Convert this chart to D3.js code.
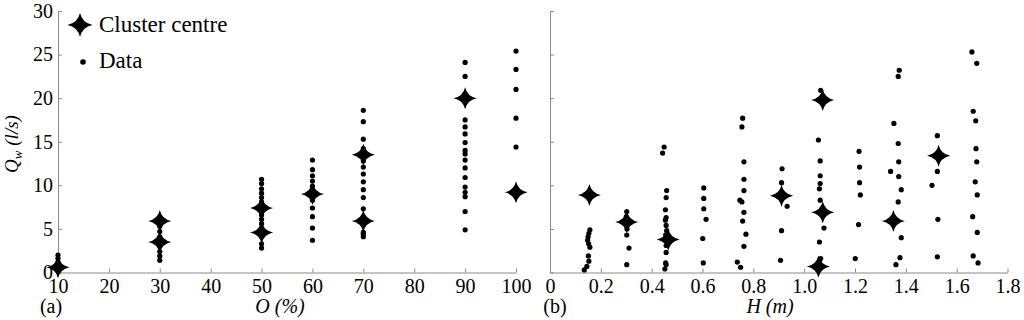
<!DOCTYPE html>
<html>
<head>
<meta charset="utf-8">
<script src="https://cdn.jsdelivr.net/npm/d3@7/dist/d3.min.js"></script>
<style>
  body { margin: 0; background: #fff; }
  svg { display: block; }
  .axis path, .axis line { stroke: #8a8a8a; stroke-width: 1; }
</style>
</head>
<body>
<div class="chart"></div>
<script>
// panel (a): discharge against opening
var oLevels = [10, 30, 50, 60, 70, 90, 100];
var qwByO = [
    [2.0, 1.6, 1.2, 0.8, 0.5, 0.3],
    [6.3, 5.9, 5.3, 4.7, 4.1, 3.5, 3.0, 2.4, 1.9, 1.4],
    [10.7, 10.2, 9.6, 9.1, 8.6, 8.1, 7.6, 7.1, 6.6, 6.1, 5.6, 5.1, 4.6, 4.1, 3.3, 2.8],
    [12.9, 11.8, 11.1, 10.5, 9.9, 9.5, 9.0, 8.3, 7.4, 6.4, 5.1, 3.7],
    [18.6, 17.3, 15.3, 14.2, 13.6, 12.8, 12.1, 11.3, 10.4, 9.5, 8.6, 7.3, 6.0, 4.6, 4.4, 4.1],
    [24.1, 22.5, 17.5, 16.7, 15.9, 14.9, 14.0, 13.6, 12.9, 12.0, 10.9, 9.8, 9.2, 8.7, 7.0, 4.9],
    [25.4, 23.3, 21.0, 17.7, 14.4]
];
var centresA = [[10, 0.6], [30, 5.9], [30, 3.5], [50, 7.4], [50, 4.6], [60, 9.0],
                [70, 13.5], [70, 5.9], [90, 20.0], [100, 9.2]];

// panel (b): discharge against head  [H, Qw]
var dataB = [
    [0.157, 4.9], [0.153, 4.5], [0.150, 4.1], [0.148, 3.7], [0.152, 3.3], [0.157, 2.9], [0.151, 1.9], [0.153, 1.3], [0.145, 0.7], [0.135, 0.3],
    [0.302, 7.0], [0.300, 6.4], [0.302, 5.8], [0.303, 5.0], [0.302, 4.3], [0.311, 2.8], [0.302, 0.9],
    [0.449, 14.4], [0.443, 13.7], [0.459, 9.4], [0.457, 8.6], [0.454, 7.2], [0.457, 6.3], [0.454, 6.0], [0.457, 5.4],
    [0.459, 4.8], [0.455, 4.3], [0.460, 3.6], [0.457, 3.1], [0.457, 2.3], [0.455, 1.1], [0.457, 0.9], [0.452, 0.4],
    [0.605, 9.7], [0.605, 8.5], [0.605, 7.3], [0.614, 6.1], [0.601, 3.9], [0.603, 1.1],
    [0.758, 17.7], [0.755, 16.7], [0.763, 12.7], [0.763, 10.7], [0.763, 9.4], [0.747, 8.3], [0.755, 8.1],
    [0.763, 6.9], [0.758, 5.9], [0.771, 4.4], [0.763, 3.0], [0.737, 1.2], [0.750, 0.6],
    [0.913, 11.9], [0.911, 10.3], [0.933, 7.6], [0.911, 4.8], [0.907, 1.4],
    [1.065, 20.9], [1.056, 15.2], [1.063, 12.8], [1.063, 11.1], [1.063, 10.2], [1.060, 9.6], [1.063, 8.3],
    [1.078, 5.1], [1.060, 3.5], [1.065, 1.6], [1.060, 1.3],
    [1.216, 13.9], [1.218, 12.1], [1.218, 10.3], [1.221, 8.9], [1.214, 5.5], [1.201, 1.6],
    [1.374, 23.2], [1.370, 22.5], [1.353, 17.1], [1.370, 14.8], [1.372, 12.7], [1.340, 11.6], [1.372, 11.0],
    [1.382, 9.5], [1.370, 8.1], [1.382, 4.0], [1.377, 1.7], [1.361, 0.9],
    [1.524, 15.7], [1.524, 11.6], [1.503, 10.0], [1.526, 6.1], [1.524, 1.8],
    [1.660, 25.3], [1.679, 24.0], [1.665, 18.5], [1.675, 17.4], [1.676, 14.2], [1.679, 12.7], [1.673, 10.4],
    [1.681, 8.9], [1.663, 6.4], [1.681, 4.6], [1.665, 1.9], [1.684, 1.1]
];
var centresB = [[0.155, 8.9], [0.302, 5.8], [0.465, 3.8], [0.911, 8.8], [1.073, 19.8],
                [1.073, 6.9], [1.056, 0.7], [1.351, 5.9], [1.529, 13.4]];

var qTicks = [0, 5, 10, 15, 20, 25, 30];
var oTicks = [10, 20, 30, 40, 50, 60, 70, 80, 90, 100];
var hTicks = [0, 0.2, 0.4, 0.6, 0.8, 1.0, 1.2, 1.4, 1.6, 1.8];

var serif = '"Liberation Serif", "Times New Roman", serif';
var width = 1024, height = 320;
var svg = d3.select('.chart').append('svg')
    .attr('width', width)
    .attr('height', height)
    .attr('font-family', serif);

var y = d3.scaleLinear().domain([0, 30]).range([272.5, 11]);
var xA = d3.scaleLinear().domain([10, 100]).range([58, 516]);
var xB = d3.scaleLinear().domain([0, 1.8]).range([550, 1007.5]);

// four pointed star, drawn round 0,0
var starPath = function(rx, ry, c) {
    return 'M0,' + (-ry) + 'Q' + c + ',' + (-c) + ' ' + rx + ',0' +
        'Q' + c + ',' + c + ' 0,' + ry +
        'Q' + (-c) + ',' + c + ' ' + (-rx) + ',0' +
        'Q' + (-c) + ',' + (-c) + ' 0,' + (-ry) + 'Z';
};
var star = starPath(11.5, 11, 2.0);

var drawAxes = function(x, ticks, fmt, showY) {
    var xa = svg.append('g').attr('class', 'axis')
        .attr('transform', 'translate(0,' + y(0) + ')')
        .call(d3.axisBottom(x).tickValues(ticks).tickFormat(fmt)
            .tickSizeInner(-4).tickSizeOuter(0).tickPadding(6));
    var ya = d3.axisLeft(y).tickValues(qTicks)
        .tickSizeInner(-4).tickSizeOuter(0).tickPadding(5);
    if (!showY) ya.tickFormat('');
    var yg = svg.append('g').attr('class', 'axis')
        .attr('transform', 'translate(' + x.range()[0] + ',0)')
        .call(ya);
    [xa, yg].forEach(function(g) {
        g.attr('font-family', serif).attr('font-size', 20);
        g.selectAll('text').attr('fill', '#000');
    });
};

drawAxes(xA, oTicks, d3.format('d'), true);
drawAxes(xB, hTicks, function(d) { return d === 0 ? '0' : d3.format('.1f')(d); }, false);

// dots, panel a
var flatA = [];
oLevels.forEach(function(o, i) {
    qwByO[i].forEach(function(q) { flatA.push([o, q]); });
});

svg.append('g').selectAll('circle')
    .data(flatA)
    .enter().append('circle')
    .attr('cx', function(d) { return xA(d[0]); })
    .attr('cy', function(d) { return y(d[1]); })
    .attr('r', 2.6)
    .attr('fill', '#000');

svg.append('g').selectAll('circle')
    .data(dataB)
    .enter().append('circle')
    .attr('cx', function(d) { return xB(d[0]); })
    .attr('cy', function(d) { return y(d[1]); })
    .attr('r', 2.6)
    .attr('fill', '#000');

svg.append('g').selectAll('path')
    .data(centresA)
    .enter().append('path')
    .attr('d', star)
    .attr('transform', function(d) { return 'translate(' + xA(d[0]) + ',' + y(d[1]) + ')'; })
    .attr('fill', '#000');

svg.append('g').selectAll('path')
    .data(centresB)
    .enter().append('path')
    .attr('d', star)
    .attr('transform', function(d) { return 'translate(' + xB(d[0]) + ',' + y(d[1]) + ')'; })
    .attr('fill', '#000');

// legend
var legend = svg.append('g');
legend.append('path').attr('d', starPath(12.5, 12, 2.2))
    .attr('transform', 'translate(80,25)').attr('fill', '#000');
legend.append('circle').attr('cx', 83).attr('cy', 62).attr('r', 2.8).attr('fill', '#000');
legend.append('text').attr('x', 99).attr('y', 31.5)
    .style('font-size', '23px').text('Cluster centre');
legend.append('text').attr('x', 99).attr('y', 68)
    .style('font-size', '23px').text('Data');

// axis titles and panel letters
var label = function(x, y0, txt, italic) {
    return svg.append('text').attr('x', x).attr('y', y0)
        .attr('text-anchor', 'middle')
        .style('font-size', '20px')
        .style('font-style', italic ? 'italic' : 'normal')
        .text(txt);
};
label(51, 313, '(a)', false);
label(280, 313, 'O (%)', true);
label(555, 313, '(b)', false);
label(770, 313, 'H (m)', true);

var qLabel = svg.append('text')
    .attr('transform', 'translate(18,144) rotate(-90)')
    .attr('text-anchor', 'middle')
    .style('font-size', '19px')
    .style('font-style', 'italic');
qLabel.append('tspan').text('Q');
qLabel.append('tspan').attr('dy', 4).style('font-size', '13px').text('w');
qLabel.append('tspan').attr('dy', -4).text(' (l/s)');
</script>
</body>
</html>
